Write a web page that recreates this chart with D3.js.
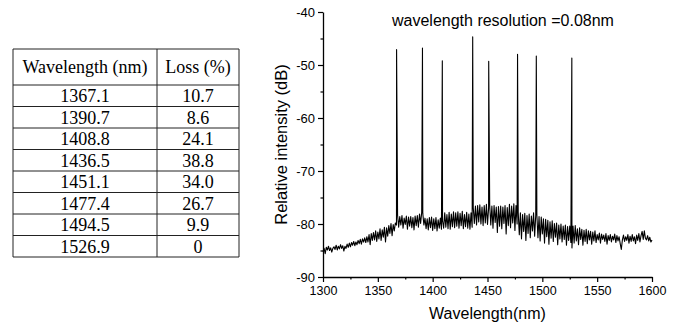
<!DOCTYPE html>
<html>
<head>
<meta charset="utf-8">
<script src="https://cdn.jsdelivr.net/npm/d3@7"></script>
<style>
  html, body { margin: 0; padding: 0; background: #fff; }
  svg { display: block; }
  .chart text { font-family: "Liberation Sans", Arial, sans-serif; fill: #000; }
  .tbl text { font-family: "Liberation Serif", "Times New Roman", serif; fill: #000; }
</style>
</head>
<body>
<div id="fig"></div>
<script>
// ---- table values ----
const tableHeader = ["Wavelength (nm)", "Loss (%)"];
const lineWavelength = ["1367.1", "1390.7", "1408.8", "1436.5", "1451.1", "1477.4", "1494.5", "1526.9"];
const lineLoss = ["10.7", "8.6", "24.1", "38.8", "34.0", "26.7", "9.9", "0"];

// ---- spectrum ----
// noise floor, one sample per nm starting at 1300 nm
const floorStartNm = 1300;
const floorDb = [
  -85.2, -84.6, -85.6, -84.4, -84.9, -84.2, -85.0, -84.5, -85.3, -84.6,
  -84.3, -84.8, -84.0, -84.9, -84.2, -84.7, -83.9, -84.6, -84.1, -85.1,
  -84.2, -84.6, -83.8, -84.4, -83.6, -84.3, -83.5, -84.0, -83.3, -84.1,
  -83.4, -83.9, -83.1, -83.7, -82.9, -83.8, -82.8, -83.4, -82.6, -83.5,
  -82.4, -83.4, -82.0, -83.9, -81.8, -83.1, -81.6, -83.0, -81.3, -83.3,
  -81.5, -82.8, -80.9, -83.1, -81.1, -82.5, -80.6, -83.4, -80.7, -82.3,
  -80.3, -81.8, -79.9, -82.2, -80.1, -81.3, -79.8,
  -80.2,
  -78.3, -80.6, -78.6, -80.2, -78.4, -80.8, -78.9, -80.1, -78.5, -81.0, -78.7, -80.4,
  -78.6, -80.7, -78.8, -81.1, -78.5, -80.3, -78.4, -80.6, -78.1, -79.9, -77.8,
  -78.0, -80.2, -78.9, -80.9, -79.0, -81.1, -78.8, -80.7, -78.7, -81.2,
  -79.0, -80.9, -78.8, -81.3, -79.2, -80.8, -78.9, -81.0,
  -79.4, -80.8, -77.9, -80.6, -78.2, -80.9, -77.8, -81.0, -78.1, -80.5, -77.7,
  -80.7, -77.9, -80.4, -77.7, -80.8, -78.0, -80.3, -77.6, -80.9, -78.2, -80.5,
  -77.8, -80.8, -78.1, -81.0, -77.9, -80.6,
  -76.9, -79.9, -76.6, -80.2, -76.5, -79.6, -76.4, -80.0, -76.8, -80.3, -76.5, -79.8, -76.3, -80.1,
  -77.0, -76.4, -80.2, -76.6, -80.8, -76.5, -79.7, -76.8, -81.6, -76.7, -80.4,
  -76.6, -80.9, -76.8, -79.9, -76.5, -81.9, -76.9, -80.3, -76.3, -80.7, -76.6, -79.8, -76.2, -81.2, -76.5, -80.0,
  -77.8, -82.0, -77.9, -82.8, -78.2, -81.4, -78.0, -83.1, -78.4, -81.8, -78.1, -82.6, -78.5, -81.3, -77.9, -82.3, -78.3,
  -78.2, -82.6, -78.6, -83.2, -78.7, -81.9, -79.0, -83.6, -79.1, -82.4, -79.3, -83.8, -79.6, -82.7, -79.4, -83.3,
  -79.9, -82.5, -79.8, -83.9, -80.2, -82.8, -80.0, -83.4, -80.4, -82.9, -80.2, -84.0, -80.5, -83.1, -80.4, -83.5,
  -84.5, -80.4, -83.6, -80.3, -83.2, -80.9, -83.9, -80.7, -82.9, -81.0, -84.0, -81.2,
  -83.3, -81.0, -83.7, -81.3, -83.0, -81.4, -83.8, -81.5, -83.2, -81.3, -83.5,
  -82.0, -83.0, -81.7, -83.6, -81.9, -82.9, -82.1, -83.3, -81.8, -83.8,
  -82.2, -83.1, -82.0, -83.4, -82.3, -83.0, -81.9, -83.5, -82.2, -83.2,
  -82.4, -83.7, -84.8, -83.0, -82.1, -83.3, -82.4, -83.1, -82.0, -83.6,
  -82.3, -83.3, -82.0, -83.2, -82.4, -83.7, -82.1, -83.1, -81.8, -83.4,
  -82.2, -81.4, -82.9, -81.3, -82.7, -83.0, -82.2, -83.2, -82.5, -83.4, -83.0
];
// laser lines (nm) and their peak level (dB)
const peakNm = [1367.1, 1390.7, 1408.8, 1436.5, 1451.1, 1477.4, 1494.5, 1526.9];
const peakDb = [-47.1, -46.8, -49.2, -44.7, -49.3, -48.0, -48.3, -48.7];

const xTicks = [1300, 1350, 1400, 1450, 1500, 1550, 1600];
const xMinor = [1325, 1375, 1425, 1475, 1525, 1575];
const yTicks = [-90, -80, -70, -60, -50, -40];
const yMinor = [-85, -75, -65, -55, -45];

const W = 680, H = 324;

const svg = d3.select("#fig").append("svg")
  .attr("width", W)
  .attr("height", H);

// ================================
// table
// ================================
const tbl = svg.append("g").attr("class", "tbl");
const colX = [13, 157, 239];
const topY = 49, headH = 36, rowH = 21.5;
const bottomY = topY + headH + rowH * lineWavelength.length;

const rowLines = [topY, topY + headH].concat(lineWavelength.map((d, i) => topY + headH + rowH * (i + 1)));

tbl.selectAll("line.h")
  .data(rowLines)
  .enter().append("line")
  .attr("x1", colX[0]).attr("x2", colX[2])
  .attr("y1", d => d).attr("y2", d => d)
  .attr("stroke", "#222").attr("stroke-width", 1);

tbl.selectAll("line.v")
  .data(colX)
  .enter().append("line")
  .attr("x1", d => d).attr("x2", d => d)
  .attr("y1", topY).attr("y2", bottomY)
  .attr("stroke", "#222").attr("stroke-width", 1);

const colMid = [(colX[0] + colX[1]) / 2, (colX[1] + colX[2]) / 2];

tbl.selectAll("text.head")
  .data(tableHeader)
  .enter().append("text")
  .attr("x", (d, i) => colMid[i])
  .attr("y", topY + headH / 2 + 6)
  .attr("text-anchor", "middle")
  .attr("font-size", "18px")
  .text(d => d);

[lineWavelength, lineLoss].forEach((col, c) => {
  tbl.selectAll("text.c" + c)
    .data(col)
    .enter().append("text")
    .attr("x", colMid[c])
    .attr("y", (d, i) => topY + headH + rowH * (i + 1) - 4.5)
    .attr("text-anchor", "middle")
    .attr("font-size", "18px")
    .text(d => d);
});

// ================================
// spectrum plot
// ================================
const chart = svg.append("g").attr("class", "chart");

const x = d3.scaleLinear().domain([1300, 1600]).range([323, 652]);
const y = d3.scaleLinear().domain([-90, -40]).range([277, 12]);

const pts = floorDb.map((v, i) => ({ nm: floorStartNm + i, db: v }))
  .concat(peakNm.map((nm, i) => ({ nm: nm, db: peakDb[i] })))
  .sort((a, b) => a.nm - b.nm);

const line = d3.line().x(d => x(d.nm)).y(d => y(d.db));

chart.append("path")
  .datum(pts)
  .attr("d", line)
  .attr("fill", "none")
  .attr("stroke", "#000")
  .attr("stroke-width", 1.1)
  .attr("stroke-linejoin", "round");

// axes
const gx = chart.append("g").attr("transform", `translate(0,${y(-90)})`);
gx.call(d3.axisBottom(x).tickValues(xTicks).tickSize(5).tickPadding(4).tickSizeOuter(0).tickFormat(d => String(d)));
gx.append("g").call(d3.axisBottom(x).tickValues(xMinor).tickSize(2.5).tickFormat("").tickSizeOuter(0))
  .select(".domain").remove();

const gy = chart.append("g").attr("transform", `translate(${x(1300)},0)`);
gy.call(d3.axisLeft(y).tickValues(yTicks).tickSize(5).tickPadding(3).tickSizeOuter(0).tickFormat(d => String(d)));
gy.append("g").call(d3.axisLeft(y).tickValues(yMinor).tickSize(2.5).tickFormat("").tickSizeOuter(0))
  .select(".domain").remove();

chart.selectAll(".domain").attr("stroke", "#000").attr("stroke-width", 1.3);
chart.selectAll(".tick line").attr("stroke", "#000").attr("stroke-width", 1.2);
gx.selectAll(".tick text")
  .attr("font-family", "Liberation Sans, Arial, sans-serif")
  .attr("font-size", "12.5px")
  .attr("fill", "#000");
gy.selectAll(".tick text")
  .attr("font-family", "Liberation Sans, Arial, sans-serif")
  .attr("font-size", "13px")
  .attr("fill", "#000");

chart.append("text")
  .attr("x", (x(1300) + x(1600)) / 2)
  .attr("y", 319)
  .attr("text-anchor", "middle")
  .attr("font-size", "16px")
  .text("Wavelength(nm)");

chart.append("text")
  .attr("transform", `translate(286.5,${(y(-40) + y(-90)) / 2}) rotate(-90)`)
  .attr("text-anchor", "middle")
  .attr("font-size", "16.5px")
  .text("Relative intensity (dB)");

chart.append("text")
  .attr("x", 392)
  .attr("y", 26)
  .attr("font-size", "16px")
  .text("wavelength resolution =0.08nm");
</script>
</body>
</html>
